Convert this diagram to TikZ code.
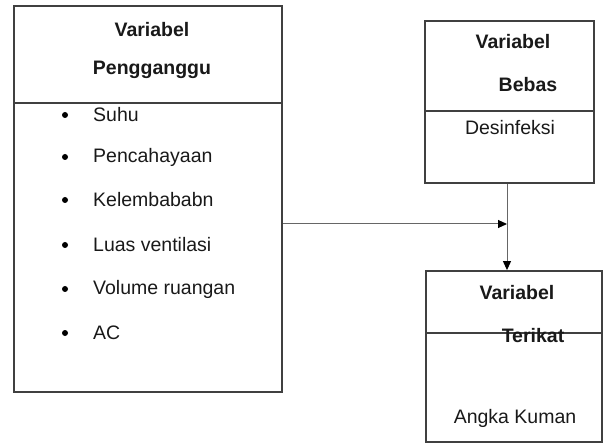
\documentclass[tikz,border=0pt]{standalone}
\usepackage{fontspec}
\setmainfont{Liberation Sans}
\usetikzlibrary{arrows.meta}
\begin{document}
\begin{tikzpicture}[x=1pt,y=-1pt,
  varbox/.style={draw=black!75,line width=1.8pt,rectangle,inner sep=0pt},
  divider/.style={draw=black!75,line width=1.6pt},
  link/.style={draw=black!60,line width=1pt},
  tip/.style={-{Triangle[length=9pt,width=8pt,color=black]}},
  txt/.style={inner sep=0pt,text=black!90,font=\fontsize{19.5}{21}\selectfont},
  head/.style={txt,font=\fontsize{19.5}{21}\selectfont\bfseries},
  dot/.style={circle,fill=black,inner sep=0pt,minimum size=6pt}]
\useasboundingbox (0,0) rectangle (607,443);

% confounding variables
\node[varbox,minimum width=268pt,minimum height=386pt] (L) at (148,199) {};
\draw[divider] (14,103) -- (282,103);
\node[head] (l1) at (152,30) {Variabel};
\node[head] (l2) at (152,70) {Pengganggu};
\foreach \y/\t [count=\i] in {115/Suhu,157/Pencahayaan,200/Kelembababn,245/Luas ventilasi,289/Volume ruangan,333/AC}{
  \node[dot] (b\i) at (65,\y) {};
  \node[txt,anchor=west] (i\i) at (93,\y) {\t};
}

% independent variable
\node[varbox,minimum width=169pt,minimum height=162pt] (B) at (509.5,102) {};
\draw[divider] (B.west |- 0,111) -- (B.east |- 0,111);
\node[head] (b1) at (513,42) {Variabel};
\node[head] (b2) at (528,85) {Bebas};
\node[txt] (b3) at (510,128) {Desinfeksi};

% dependent variable
\node[varbox,minimum width=176pt,minimum height=171pt] (T) at (514,356.5) {};
\draw[divider] (T.west |- 0,333) -- (T.east |- 0,333);
\node[head] (t1) at (517,293) {Variabel};
\node[head] (t2) at (533,336) {Terikat};
\node[txt] (t3) at (515,418) {Angka Kuman};

% connectors
\coordinate (j) at (507,224);
\draw[link,tip] (L.east |- j) -- (j);
\draw[link,tip] (j |- B.south) -- (j |- T.north);
\end{tikzpicture}
\end{document}
